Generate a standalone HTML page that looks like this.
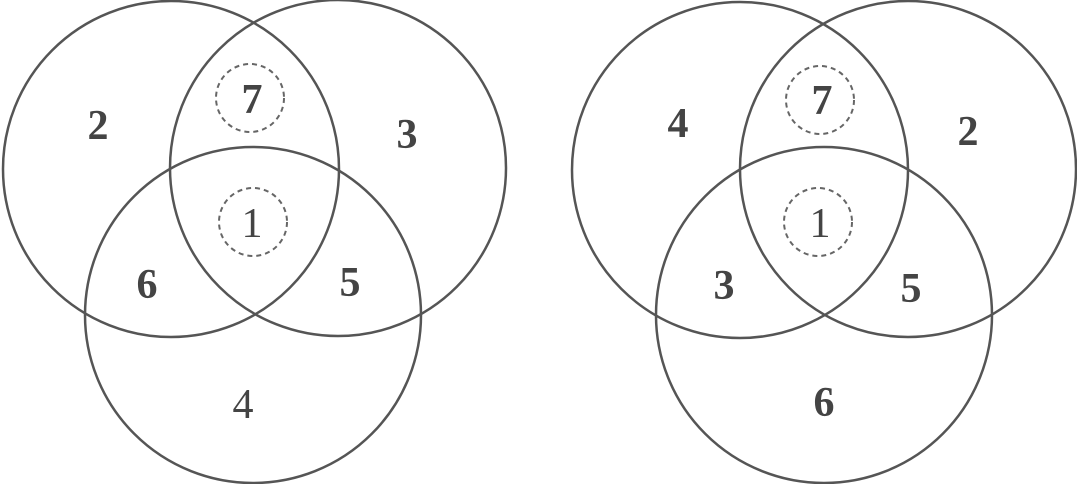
<!DOCTYPE html>
<html><head><style>
html,body{margin:0;padding:0;background:#fff;}
svg{display:block;}
text{font-family:"Liberation Serif",serif;font-size:42px;fill:#444;text-anchor:middle;dominant-baseline:central;}
.b{font-weight:bold;}
</style></head><body>
<svg width="1077" height="484" viewBox="0 0 1077 484">
<g fill="none" stroke="#555" stroke-width="2.5">
<circle cx="171" cy="169" r="168"/>
<circle cx="338" cy="168" r="168"/>
<circle cx="253" cy="315" r="168"/>
<circle cx="740" cy="170" r="168"/>
<circle cx="908" cy="169" r="168"/>
<circle cx="824" cy="315" r="168"/>
</g>
<g fill="none" stroke="#666" stroke-width="2" stroke-dasharray="5,4">
<circle cx="250" cy="98" r="34"/>
<circle cx="253" cy="222" r="34"/>
<circle cx="820" cy="100" r="34"/>
<circle cx="818" cy="222" r="34"/>
</g>
<g>
<text class="b" x="98" y="126">2</text>
<text class="b" x="252" y="100">7</text>
<text class="b" x="407" y="135">3</text>
<text x="252" y="224">1</text>
<text class="b" x="147" y="285">6</text>
<text class="b" x="350" y="283">5</text>
<text x="243" y="405">4</text>
<text class="b" x="678" y="124">4</text>
<text class="b" x="822" y="101">7</text>
<text class="b" x="968" y="132">2</text>
<text x="820" y="224">1</text>
<text class="b" x="724" y="286">3</text>
<text class="b" x="911" y="289">5</text>
<text class="b" x="824" y="403">6</text>
</g>
</svg>
</body></html>
